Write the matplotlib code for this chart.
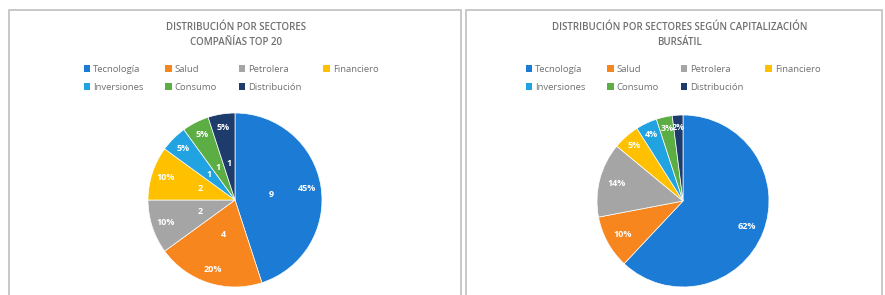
import matplotlib
matplotlib.use("Agg")
import matplotlib.pyplot as plt
import numpy as np
from matplotlib.patches import Rectangle, Patch

plt.rcParams['font.family'] = ['Open Sans', 'DejaVu Sans']

sectores = ['Tecnología', 'Salud', 'Petrolera', 'Financiero', 'Inversiones', 'Consumo', 'Distribución']
colores = ['#1C7CD5', '#F7861E', '#A5A5A5', '#FFC000', '#21A3E2', '#5CAD43', '#1D3C6C']
companias = [9, 4, 2, 2, 1, 1, 1]
capitalizacion = [62, 10, 14, 5, 4, 3, 2]

titulo_1 = 'DISTRIBUCIÓN POR SECTORES\nCOMPAÑÍAS TOP 20'
titulo_2 = 'DISTRIBUCIÓN POR SECTORES SEGÚN CAPITALIZACIÓN\nBURSÁTIL'

W, H = 885, 295
fig = plt.figure(figsize=(W / 100, H / 100), dpi=100)

# marcos de los dos graficos
for x0, x1 in [(9, 461), (466, 882)]:
    fig.add_artist(Rectangle((x0 / W, -0.1), (x1 - x0) / W, (H - 10) / H + 0.1,
                             transform=fig.transFigure, fill=False,
                             edgecolor='#BFBFBF', linewidth=1.2))

def pastel(cx, cy, r, valores, titulo, tx, lx, con_cuentas):
    ax = fig.add_axes([(cx - r) / W, 1 - (cy + r) / H, 2 * r / W, 2 * r / H])
    total = sum(valores)
    wedges, _ = ax.pie(valores, colors=colores, startangle=90, counterclock=False,
                       wedgeprops=dict(edgecolor='white', linewidth=0.5))
    for w, v in zip(wedges, valores):
        ang = np.deg2rad((w.theta1 + w.theta2) / 2)
        pd = 0.84 if con_cuentas else 0.8
        if not con_cuentas and v <= 5:
            pd = 0.86
        ax.text(pd * np.cos(ang), pd * np.sin(ang), '%d%%' % round(100 * v / total),
                ha='center', va='center', color='white', fontsize=6.5, fontweight='bold')
        if con_cuentas:
            ax.text(0.42 * np.cos(ang), 0.42 * np.sin(ang), str(v),
                    ha='center', va='center', color='white', fontsize=6.5, fontweight='bold')
    ax.set_xlim(-1, 1)
    ax.set_ylim(-1, 1)
    ax.set_aspect('equal')
    ax.axis('off')
    fig.text(tx / W, 1 - 35 / H, titulo, ha='center', va='center', fontsize=7,
             fontweight='semibold', color='#707070', linespacing=1.45)
    orden = [0, 4, 1, 5, 2, 6, 3]
    handles = [Patch(facecolor=colores[i]) for i in orden]
    labels = [sectores[i] for i in orden]
    fig.legend(handles, labels, ncol=4, loc='upper left',
               bbox_to_anchor=(lx / W, 1 - 60 / H), frameon=False, fontsize=6.8,
               labelcolor='#707070', handlelength=0.7, handleheight=0.7,
               handletextpad=0.3, columnspacing=2.3, labelspacing=0.95, borderpad=0)

pastel(235, 200, 87, companias, titulo_1, 236, 79, True)
pastel(683, 201, 86, capitalizacion, titulo_2, 680, 521, False)

fig.savefig('out.png', dpi=100)
